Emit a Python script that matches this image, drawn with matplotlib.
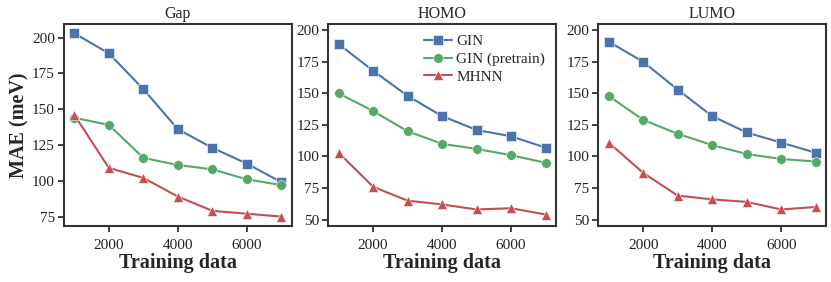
import numpy as np
import matplotlib
matplotlib.use("Agg")
import matplotlib.pyplot as plt
import seaborn as sns

sns.set_style("ticks")
plt.rcParams['font.family'] = ['Liberation Serif', 'DejaVu Serif']
plt.rcParams['mathtext.fontset'] = 'stix'

# training data sizes
train = [1000, 2000, 3000, 4000, 5000, 6000, 7000]
tasks = ["Gap", "HOMO", "LUMO"]

# MAE (meV)
gin_gap = [203, 189, 164, 136, 123, 112, 99]
pre_gap = [144, 139, 116, 111, 108, 101, 97]
mhnn_gap = [146, 109, 102, 89, 79, 77, 75]

gin_homo = [189, 168, 148, 132, 121, 116, 107]
pre_homo = [150, 136, 120, 110, 106, 101, 95]
mhnn_homo = [103, 76, 65, 62, 58, 59, 54]

gin_lumo = [191, 175, 153, 132, 119, 111, 103]
pre_lumo = [148, 129, 118, 109, 102, 98, 96]
mhnn_lumo = [111, 87, 69, 66, 64, 58, 60]

gin = [gin_gap, gin_homo, gin_lumo]
pre = [pre_gap, pre_homo, pre_lumo]
mhnn = [mhnn_gap, mhnn_homo, mhnn_lumo]

c_blue, c_green, c_red = "#4C72B0", "#55A868", "#C44E52"

fig = plt.figure(figsize=(8.31, 2.82), dpi=100)
lefts = [0.077, 0.395, 0.720]
axes = [fig.add_axes([l, 0.199, 0.274, 0.716]) for l in lefts]

mk = dict(ms=7, lw=1.5, mec='white', mew=0.4)
for i, ax in enumerate(axes):
    ax.plot(train, gin[i], marker='s', color=c_blue, label="GIN", **mk)
    ax.plot(train, pre[i], marker='o', color=c_green, label="GIN (pretrain)", **mk)
    ax.plot(train, mhnn[i], marker='^', color=c_red, label="MHNN", **mk)
    ax.set_title(tasks[i], fontsize=11.5, pad=4)
    ax.set_xlabel("Training data", fontsize=14.5, fontweight='bold', labelpad=1)
    ax.set_xticks([2000, 4000, 6000])
    ax.tick_params(labelsize=11, length=4.5, width=1.2, colors='#222222')
    ax.tick_params(axis='x', pad=5)
    ax.tick_params(axis='y', pad=2)
    for s in ax.spines.values():
        s.set_linewidth(1.5)
        s.set_color('#333333')
    if i == 0:
        ax.set_yticks([75, 100, 125, 150, 175, 200])
        ax.set_ylim(68.5, 209.5)
        ax.set_ylabel("MAE (meV)", fontsize=14.5, fontweight='bold', labelpad=2)
    else:
        ax.set_yticks([50, 75, 100, 125, 150, 175, 200])
        ax.set_ylim(45, 205)

axes[1].legend(loc='upper right', frameon=False, fontsize=11, handlelength=1.8,
               handletextpad=0.3, labelspacing=0.25, borderaxespad=0.3)

fig.savefig("out.png", dpi=100)
